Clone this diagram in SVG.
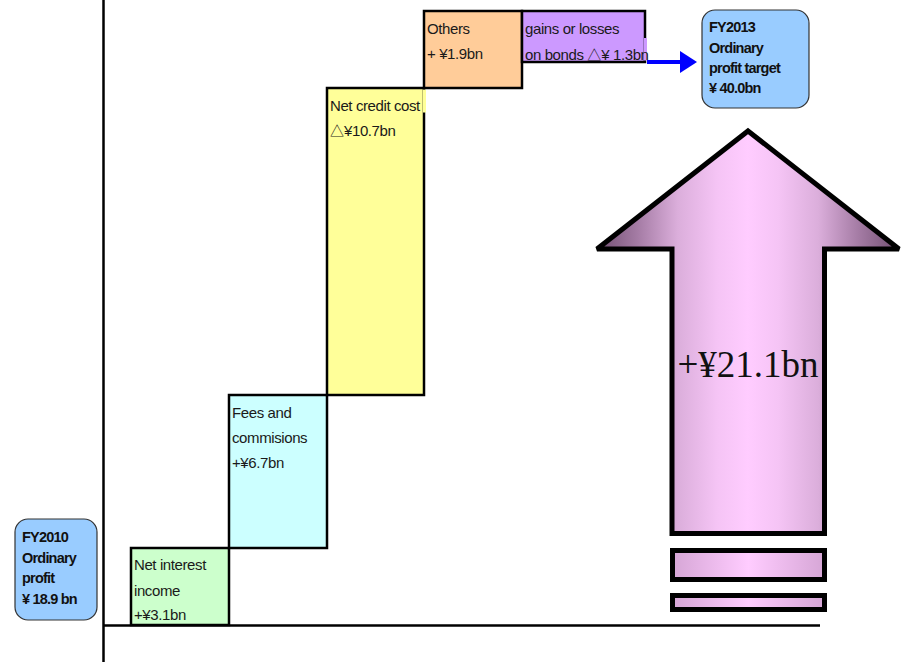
<svg xmlns="http://www.w3.org/2000/svg" width="906" height="662" viewBox="0 0 906 662">
  <defs>
    <style>
      .step { stroke: #000; stroke-width: 2.5; }
      .lbl { font-family: "Liberation Sans", Arial, sans-serif; font-size: 15px; fill: #1a1a1a; letter-spacing: -0.4px; }
      .tri { font-family: "Noto Sans CJK JP", "DejaVu Sans", sans-serif; font-size: 14px; letter-spacing: 0; }
      .hd { font-family: "Liberation Sans", Arial, sans-serif; font-size: 14.5px; font-weight: bold; fill: #111; letter-spacing: -0.8px; }
      .total { fill: #99CCFF; stroke: #333; stroke-width: 1.2; }
      .axis { stroke: #000; stroke-width: 2.5; fill: none; }
    </style>
    <linearGradient id="arrowFill" gradientUnits="userSpaceOnUse" x1="595" y1="0" x2="901" y2="0">
      <stop offset="0" stop-color="#6e4c6e"/>
      <stop offset="0.14" stop-color="#a57ca5"/>
      <stop offset="0.27" stop-color="#dbaedb"/>
      <stop offset="0.4" stop-color="#f5c4f5"/>
      <stop offset="0.5" stop-color="#ffccff"/>
      <stop offset="0.6" stop-color="#f5c4f5"/>
      <stop offset="0.73" stop-color="#dbaedb"/>
      <stop offset="0.86" stop-color="#a57ca5"/>
      <stop offset="1" stop-color="#6e4c6e"/>
    </linearGradient>
    <linearGradient id="barFill" x1="0" y1="0" x2="1" y2="0">
      <stop offset="0" stop-color="#d6a6d6"/>
      <stop offset="0.5" stop-color="#ffccff"/>
      <stop offset="1" stop-color="#d6a6d6"/>
    </linearGradient>
  </defs>

  <rect width="906" height="662" fill="#fff"/>

  <!-- axes -->
  <g id="axes">
    <line class="axis" x1="103.5" y1="0" x2="103.5" y2="662"/>
    <line class="axis" x1="103.5" y1="625.5" x2="820" y2="625.5"/>
  </g>

  <!-- starting total -->
  <g id="fy2010">
    <rect class="total" x="15" y="519" width="82" height="101" rx="13"/>
    <text class="hd" x="22" y="542">FY2010</text>
    <text class="hd" x="22" y="563">Ordinary</text>
    <text class="hd" x="22" y="583">profit</text>
    <text class="hd" x="22" y="604">¥ 18.9 bn</text>
  </g>

  <!-- waterfall steps -->
  <g id="net-interest">
    <rect class="step" x="131" y="548" width="98" height="77" fill="#CCFFCC"/>
    <text class="lbl" x="134" y="570">Net interest</text>
    <text class="lbl" x="134" y="596">income</text>
    <text class="lbl" x="134" y="620">+¥3.1bn</text>
  </g>

  <g id="fees">
    <rect class="step" x="229" y="395" width="98" height="153" fill="#CCFFFF"/>
    <text class="lbl" x="232" y="418">Fees and</text>
    <text class="lbl" x="232" y="443">commisions</text>
    <text class="lbl" x="232" y="468">+¥6.7bn</text>
  </g>

  <g id="credit-cost">
    <rect class="step" x="327" y="88" width="97" height="307" fill="#FFFF99"/>
    <rect x="423" y="89.5" width="3" height="23" fill="#FFFF99"/>
    <text class="lbl" x="330" y="111">Net credit cost</text>
    <text class="lbl" x="330" y="136"><tspan class="tri">△</tspan>¥10.7bn</text>
  </g>

  <g id="others">
    <rect class="step" x="424" y="11" width="98" height="77" fill="#FFCC99"/>
    <text class="lbl" x="427" y="34">Others</text>
    <text class="lbl" x="427" y="59">+ ¥1.9bn</text>
  </g>

  <g id="bonds">
    <rect class="step" x="522" y="11" width="123" height="51" fill="#CC99FF"/>
    <rect x="644" y="38" width="3" height="22.5" fill="#CC99FF"/>
    <text class="lbl" x="525" y="34">gains or losses</text>
    <text class="lbl" x="525" y="60">on bonds <tspan class="tri">△</tspan>¥ 1.3bn</text>
  </g>

  <!-- target total -->
  <g id="fy2013">
    <rect class="total" x="702" y="10" width="107" height="98" rx="13"/>
    <text class="hd" x="709" y="32">FY2013</text>
    <text class="hd" x="709" y="53">Ordinary</text>
    <text class="hd" x="709" y="73">profit target</text>
    <text class="hd" x="709" y="93">¥ 40.0bn</text>
  </g>

  <!-- connector to target -->
  <g id="connectors">
    <line x1="647" y1="62" x2="682" y2="62" stroke="#0000FF" stroke-width="4"/>
    <polygon points="680,51 697,62 680,73" fill="#0000FF"/>
  </g>

  <!-- overall increase arrow -->
  <g id="increase">
    <path d="M748,131 L899,249 L824.5,249 L824.5,533.5 L672,533.5 L672,249 L597,249 Z" fill="url(#arrowFill)" stroke="#000" stroke-width="5" stroke-linejoin="miter" stroke-miterlimit="3"/>
    <text x="748" y="377" text-anchor="middle" font-family="'Liberation Serif', 'Times New Roman', serif" font-size="37" fill="#111">+¥21.1bn</text>
    <rect x="672.5" y="550.5" width="152" height="29" fill="url(#barFill)" stroke="#000" stroke-width="5"/>
    <rect x="672.5" y="595.5" width="152" height="14" fill="url(#barFill)" stroke="#000" stroke-width="5"/>
  </g>
</svg>
